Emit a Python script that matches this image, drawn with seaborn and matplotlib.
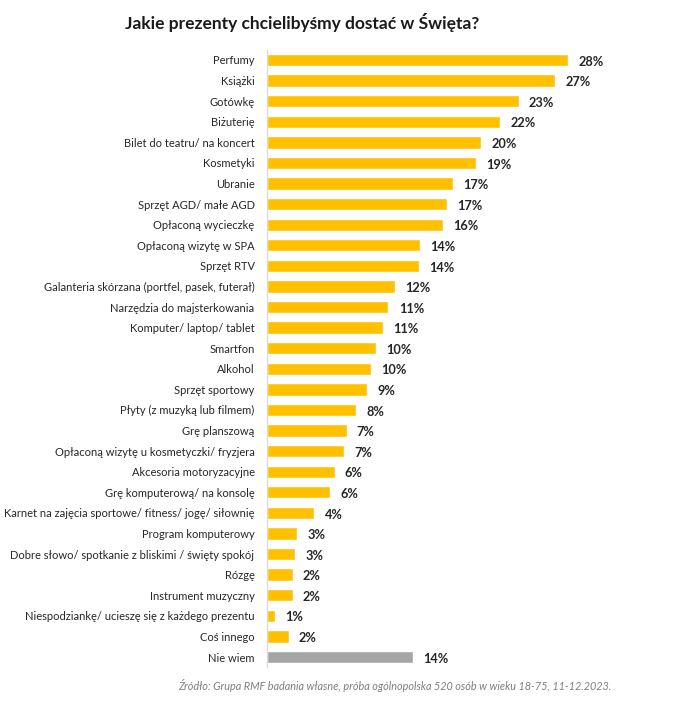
import matplotlib
matplotlib.use("Agg")
import matplotlib.pyplot as plt
import seaborn as sns
import pandas as pd

categories = [
    "Perfumy", "Książki", "Gotówkę", "Biżuterię", "Bilet do teatru/ na koncert",
    "Kosmetyki", "Ubranie", "Sprzęt AGD/ małe AGD", "Opłaconą wycieczkę",
    "Opłaconą wizytę w SPA", "Sprzęt RTV", "Galanteria skórzana (portfel, pasek, futerał)",
    "Narzędzia do majsterkowania", "Komputer/ laptop/ tablet", "Smartfon", "Alkohol",
    "Sprzęt sportowy", "Płyty (z muzyką lub filmem)", "Grę planszową",
    "Opłaconą wizytę u kosmetyczki/ fryzjera", "Akcesoria motoryzacyjne",
    "Grę komputerową/ na konsolę", "Karnet na zajęcia sportowe/ fitness/ jogę/ siłownię",
    "Program komputerowy", "Dobre słowo/ spotkanie z bliskimi / święty spokój",
    "Rózgę", "Instrument muzyczny", "Niespodziankę/ ucieszę się z każdego prezentu",
    "Coś innego", "Nie wiem",
]
values = [28.0, 26.8, 23.4, 21.7, 19.9, 19.4, 17.3, 16.7, 16.4, 14.2, 14.1, 11.9,
          11.3, 10.8, 10.1, 9.7, 9.3, 8.3, 7.4, 7.2, 6.3, 5.9, 4.4, 2.8, 2.6, 2.4,
          2.4, 0.7, 2.0, 13.6]
value_labels = ["28%", "27%", "23%", "22%", "20%", "19%", "17%", "17%", "16%", "14%",
                "14%", "12%", "11%", "11%", "10%", "10%", "9%", "8%", "7%", "7%",
                "6%", "6%", "4%", "3%", "3%", "2%", "2%", "1%", "2%", "14%"]
groups = ["main"] * 29 + ["none"]

df = pd.DataFrame({"cat": categories, "val": values, "grp": groups})

sns.set_theme(style="white")
plt.rcParams["font.family"] = ["Lato", "DejaVu Sans"]

W, H = 680, 705
fig = plt.figure(figsize=(W / 100, H / 100), dpi=100)
ax_left, ax_right = 267, 646
ax_top, ax_bot = 49.7, 667.3
ax = fig.add_axes([ax_left / W, 1 - ax_bot / H, (ax_right - ax_left) / W, (ax_bot - ax_top) / H])

sns.barplot(data=df, x="val", y="cat", hue="grp", orient="h",
            palette={"main": "#FFC000", "none": "#A5A5A5"}, width=0.6,
            saturation=1, dodge=False, legend=False, ax=ax)

px_per_unit = 10.75
ax.set_xlim(0, (ax_right - ax_left) / px_per_unit)
ax.set_ylim(len(categories) - 0.5, -0.5)
ax.set_xlabel("")
ax.set_ylabel("")
ax.set_xticks([])
ax.tick_params(axis="y", length=0, pad=9, labelsize=8, labelcolor="#262626")
for s in ["top", "right", "bottom"]:
    ax.spines[s].set_visible(False)
ax.spines["left"].set_color("#D9D9D9")
ax.spines["left"].set_linewidth(0.9)

for i, (v, lab) in enumerate(zip(values, value_labels)):
    ax.text(v + 0.95, i + 0.08, lab, ha="left", va="center", fontsize=9.2,
            fontweight="bold", color="#262626")

fig.text(302 / W, 1 - 22 / H, "Jakie prezenty chcielibyśmy dostać w Święta?",
         ha="center", va="center", fontsize=12.5, fontweight="bold", color="#1a1a1a")
fig.text(395 / W, 1 - 685 / H,
         "Źródło: Grupa RMF badania własne, próba ogólnopolska 520 osób w wieku 18-75, 11-12.2023.",
         ha="center", va="center", fontsize=7.8, style="italic", color="#7F7F7F")

fig.savefig("out.png", dpi=100, facecolor="white")
